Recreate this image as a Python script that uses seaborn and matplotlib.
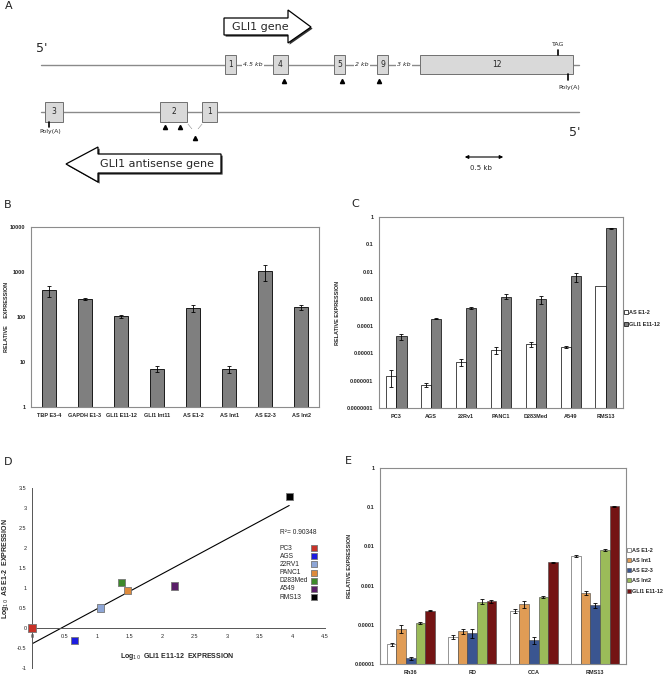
import numpy as np
import pandas as pd
import matplotlib
matplotlib.use("Agg")
import matplotlib.pyplot as plt
from matplotlib import font_manager
from matplotlib.patches import Rectangle, Polygon
from matplotlib.ticker import FixedLocator, FuncFormatter, NullLocator
import seaborn as sns

# ---------------- data ----------------
# Panel A (gene schematic)
sense_exons = ['1', '4', '5', '9', '12']
sense_x0 = [225, 273, 334, 377, 420]
sense_x1 = [236, 288, 345, 388, 573]
gap_labels = ['4.5 kb', '2 kb', '3 kb']
gap_x = [253, 362, 404]
sense_primers = [284, 342, 379]
anti_exons = ['3', '2', '1']
anti_x0 = [45, 160, 202]
anti_x1 = [63, 187, 217]
anti_primers = [165, 180]

# Panel B
b_cats = ['TBP E3-4', 'GAPDH E1-3', 'GLI1 E11-12', 'GLI1 Int11', 'AS E1-2', 'AS Int1', 'AS E2-3', 'AS Int2']
b_vals = [390, 250, 103, 7.0, 157, 7.0, 1045, 163]
b_err = [110, 8, 8, 1.0, 25, 1.2, 420, 22]

# Panel C
c_cats = ['PC3', 'AGS', '22Rv1', 'PANC1', 'D283Med', 'A549', 'RMS13']
c_series = ['AS E1-2', 'GLI1 E11-12']
c_as = [1.5e-6, 7.1e-7, 4.8e-6, 1.3e-5, 2.2e-5, 1.7e-5, 2.9e-3]
c_as_err = [1.0e-6, 1.2e-7, 1.2e-6, 3.5e-6, 5e-6, 1.5e-6, 0.0]
c_gli = [4.2e-5, 1.9e-4, 4.7e-4, 1.2e-3, 9.6e-4, 6.6e-3, 0.38]
c_gli_err = [1.0e-5, 8e-6, 4e-5, 2.5e-4, 3e-4, 2.3e-3, 0.02]

# Panel D
d_names = ['PC3', 'AGS', '22RV1', 'PANC1', 'D283Med', 'A549', 'RMS13']
d_x = [0.0, 0.65, 1.05, 1.47, 1.37, 2.19, 3.95]
d_y = [0.0, -0.32, 0.50, 0.93, 1.14, 1.05, 3.28]
d_colors = ['#c83228', '#1c1ce0', '#8ea6d6', '#dd8a3c', '#3d8a2a', '#5a1e68', '#000000']
d_r2 = 'R²= 0.90348'

# Panel E
e_cats = ['Rh36', 'RD', 'CCA', 'RMS13']
e_series = ['AS E1-2', 'AS Int1', 'AS E2-3', 'AS Int2', 'GLI1 E11-12']
e_vals = {
    'AS E1-2':     [3.2e-5, 5.0e-5, 2.3e-4, 5.8e-3],
    'AS Int1':     [7.8e-5, 6.8e-5, 3.4e-4, 6.4e-4],
    'AS E2-3':     [1.4e-5, 6.2e-5, 4.0e-5, 3.2e-4],
    'AS Int2':     [1.1e-4, 3.9e-4, 5.1e-4, 8.1e-3],
    'GLI1 E11-12': [2.3e-4, 4.0e-4, 3.9e-3, 0.105],
}
e_errs = {
    'AS E1-2':     [3e-6, 6e-6, 3e-5, 4e-4],
    'AS Int1':     [1.8e-5, 1.0e-5, 7e-5, 7e-5],
    'AS E2-3':     [1e-6, 1.5e-5, 8e-6, 5e-5],
    'AS Int2':     [8e-6, 6e-5, 4e-5, 4e-4],
    'GLI1 E11-12': [1e-5, 4e-5, 2e-4, 3e-3],
}
e_colors = ['#ffffff', '#e09c55', '#3a5590', '#9bbb59', '#741414']

# ---------------- figure ----------------
sns.set_style("white")
plt.rcParams['font.family'] = ['DejaVu Sans']
_avail = {f.name for f in font_manager.fontManager.ttflist}
SMALL_FAM = 'Liberation Sans Narrow' if 'Liberation Sans Narrow' in _avail else 'Liberation Sans'

W, H = 669, 677
fig = plt.figure(figsize=(W / 100, H / 100), dpi=100)


def px_axes(left, top, right, bottom, **kw):
    return fig.add_axes([left / W, 1 - bottom / H, (right - left) / W, (bottom - top) / H], **kw)


TICK_FS = 4.0
SMALL = dict(family=SMALL_FAM, size=TICK_FS, weight='bold')

# ---- panel A: schematic in pixel coordinates ----
ax0 = fig.add_axes([0, 0, 1, 1], zorder=-5)
ax0.set_xlim(0, W)
ax0.set_ylim(H, 0)
ax0.axis('off')

for lab, xx, yy in [('A', 5, 6), ('B', 4, 205), ('C', 351, 204), ('D', 4, 462), ('E', 345, 461)]:
    ax0.text(xx, yy, lab, fontsize=8, ha='left', va='center', color='#222')


def block_arrow(pts):
    shadow = Polygon([(x + 1.6, y + 1.6) for x, y in pts], closed=True, fc='#333', ec='none')
    ax0.add_patch(shadow)
    ax0.add_patch(Polygon(pts, closed=True, fc='white', ec='black', lw=0.9))


block_arrow([(224, 18), (288, 18), (288, 10), (311, 27), (288, 43), (288, 35), (224, 35)])
ax0.text(260, 26.5, 'GLI1 gene', fontsize=8, ha='center', va='center')
block_arrow([(221, 154), (98, 154), (98, 147), (66, 164), (98, 182), (98, 173), (221, 173)])
ax0.text(157, 164, 'GLI1 antisense gene', fontsize=8, ha='center', va='center')

# sense strand
ax0.plot([41, 579], [65, 65], color='#8a8a8a', lw=1.0, zorder=1)
ax0.text(42, 48, "5'", fontsize=9, ha='center', va='center')
for lab, x0, x1 in zip(sense_exons, sense_x0, sense_x1):
    ax0.add_patch(Rectangle((x0, 55), x1 - x0, 19, fc='#d9d9d9', ec='#707070', lw=0.7, zorder=2))
    ax0.text((x0 + x1) / 2, 64.5, lab, fontsize=5.5, ha='center', va='center', zorder=3)
for lab, xx in zip(gap_labels, gap_x):
    ax0.text(xx, 64.5, lab, fontsize=4.5, style='italic', ha='center', va='center', zorder=3,
             bbox=dict(fc='white', ec='none', pad=0.6))
ax0.plot(sense_primers, [81] * len(sense_primers), ls='none', marker='^', ms=3, color='black')
ax0.plot([558, 558], [50, 55], color='black', lw=1.2)
ax0.text(558, 44, 'TAG', fontsize=4.5, ha='center', va='center')
ax0.plot([568, 568], [74, 80], color='black', lw=1.2)
ax0.text(569, 87, 'Poly(A)', fontsize=4.5, ha='center', va='center')

# antisense strand
ax0.plot([41, 579], [112, 112], color='#8a8a8a', lw=1.0, zorder=1)
for lab, x0, x1 in zip(anti_exons, anti_x0, anti_x1):
    ax0.add_patch(Rectangle((x0, 102), x1 - x0, 20, fc='#d9d9d9', ec='#707070', lw=0.7, zorder=2))
    ax0.text((x0 + x1) / 2, 112, lab, fontsize=5.5, ha='center', va='center', zorder=3)
ax0.plot([49, 49], [122, 127], color='black', lw=1.2)
ax0.text(50, 131, 'Poly(A)', fontsize=4.5, ha='center', va='center')
ax0.plot(anti_primers, [127] * len(anti_primers), ls='none', marker='^', ms=3, color='black')
ax0.plot([188, 192], [124, 129], color='#555', lw=0.5, ls=(0, (1, 1)))
ax0.plot([202, 198], [124, 129], color='#555', lw=0.5, ls=(0, (1, 1)))
ax0.plot([195], [138], ls='none', marker='^', ms=3, color='black')
ax0.text(575, 133, "5'", fontsize=9, ha='center', va='center')

# scale bar
ax0.annotate('', xy=(462, 157), xytext=(506, 157),
             arrowprops=dict(arrowstyle='<|-|>', lw=0.8, color='black', mutation_scale=5))
ax0.text(481, 168, '0.5 kb', fontsize=5, ha='center', va='center')


def style_frame(ax):
    for s in ax.spines.values():
        s.set_color('#8c8c8c')
        s.set_linewidth(0.8)
    ax.tick_params(axis='both', length=2, width=0.5, color='#555', pad=2)
    for t in ax.get_xticklabels() + ax.get_yticklabels():
        t.set_fontfamily(SMALL_FAM)
        t.set_fontsize(TICK_FS)
        t.set_fontweight('bold')


def dec_fmt(v, _):
    return np.format_float_positional(v, trim='-')


def add_errs(ax, errs_per_container):
    for cont, errs in zip(ax.containers, errs_per_container):
        for bar, e in zip(cont, errs):
            if e <= 0:
                continue
            xc = bar.get_x() + bar.get_width() / 2
            yv = bar.get_height()
            lo = min(e, yv * 0.6)
            ax.errorbar(xc, yv, yerr=[[lo], [e]], fmt='none', ecolor='black',
                        elinewidth=0.6, capsize=1.2, capthick=0.6, zorder=5)


def set_cat_ticks(ax, n):
    ax.set_xticks(np.arange(n))
    ax.set_xticks(np.arange(n + 1) - 0.5, minor=True)
    ax.tick_params(axis='x', which='major', length=0, pad=4)
    ax.tick_params(axis='x', which='minor', length=2, width=0.5, color='#555')
    ax.set_xlim(-0.5, n - 0.5)


def small_legend(ax, anchor, spacing):
    ax.legend(loc='upper left', bbox_to_anchor=anchor, frameon=False,
              prop=dict(family=SMALL_FAM, size=TICK_FS, weight='bold'),
              handlelength=0.7, handleheight=0.7, handletextpad=0.15,
              labelspacing=spacing, borderaxespad=0.1, borderpad=0.1)


# ---- panel B ----
axB = px_axes(31, 227, 319, 407)
axB.set_yscale('log')
dfB = pd.DataFrame({'cat': b_cats, 'val': b_vals})
sns.barplot(data=dfB, x='cat', y='val', color='#7f7f7f', saturation=1, width=0.4,
            edgecolor='black', linewidth=0.6, ax=axB)
axB.set_ylim(1, 10000)
axB.yaxis.set_major_locator(FixedLocator([1, 10, 100, 1000, 10000]))
axB.yaxis.set_minor_locator(NullLocator())
axB.yaxis.set_major_formatter(FuncFormatter(dec_fmt))
set_cat_ticks(axB, len(b_cats))
add_errs(axB, [b_err])
axB.set_xlabel('')
axB.set_ylabel('RELATIVE     EXPRESSION', **SMALL)
axB.yaxis.set_label_coords(-0.075, 0.5)
style_frame(axB)

# ---- panel C ----
axC = px_axes(379, 217, 623, 408)
axC.set_yscale('log')
dfC = pd.DataFrame({'cat': c_cats * 2,
                    'series': [c_series[0]] * len(c_cats) + [c_series[1]] * len(c_cats),
                    'val': c_as + c_gli})
sns.barplot(data=dfC, x='cat', y='val', hue='series', hue_order=c_series,
            palette=['#ffffff', '#7f7f7f'], saturation=1, width=0.58,
            edgecolor='black', linewidth=0.5, ax=axC)
axC.set_ylim(1e-7, 1)
axC.yaxis.set_major_locator(FixedLocator([10.0 ** k for k in range(-7, 1)]))
axC.yaxis.set_minor_locator(NullLocator())
axC.yaxis.set_major_formatter(FuncFormatter(dec_fmt))
set_cat_ticks(axC, len(c_cats))
add_errs(axC, [c_as_err, c_gli_err])
axC.set_xlabel('')
axC.set_ylabel('RELATIVE EXPRESSION', **SMALL)
axC.yaxis.set_label_coords(-0.16, 0.5)
small_legend(axC, (1.0, 0.52), 1.3)
style_frame(axC)

# ---- panel D ----
axD = px_axes(32, 488, 325, 668)
dfD = pd.DataFrame({'x': d_x, 'y': d_y, 'name': d_names})
sns.regplot(data=dfD, x='x', y='y', scatter=False, ci=None, truncate=True,
            line_kws=dict(color='black', lw=0.8), ax=axD)
sns.scatterplot(data=dfD, x='x', y='y', hue='name', hue_order=d_names, palette=d_colors,
                marker='s', s=28, edgecolor='#777', linewidth=0.6, legend=False, ax=axD,
                zorder=4, clip_on=False)
axD.set_xlim(0, 4.5)
axD.set_ylim(-1, 3.5)
axD.set_xticks(np.arange(0, 4.51, 0.5))
axD.set_yticks(np.arange(-1, 3.51, 0.5))
axD.xaxis.set_major_formatter(FuncFormatter(lambda v, _: f'{v:g}'))
axD.yaxis.set_major_formatter(FuncFormatter(lambda v, _: f'{v:g}'))
axD.spines['top'].set_visible(False)
axD.spines['right'].set_visible(False)
axD.spines['bottom'].set_position(('data', 0))
for s in ['left', 'bottom']:
    axD.spines[s].set_color('#555')
    axD.spines[s].set_linewidth(0.7)
axD.tick_params(axis='both', length=2, width=0.5, color='#555', pad=2)
for t in axD.get_xticklabels() + axD.get_yticklabels():
    t.set_fontfamily(SMALL_FAM)
    t.set_fontsize(TICK_FS)
axD.set_xlabel('')
axD.set_ylabel('')
LBL = dict(family=SMALL_FAM, size=TICK_FS + 1.0, weight='bold')
axD.text(2.23, -0.72, 'Log$_{10}$  GLI1 E11-12  EXPRESSION', ha='center', va='center', **LBL)
axD.text(-0.09, 0.55, 'Log$_{10}$  AS E1-2  EXPRESSION', transform=axD.transAxes,
         ha='center', va='center', rotation=90, **LBL)
LEG = dict(family=SMALL_FAM, size=TICK_FS + 0.8)
axD.text(248 / 293, 1 - (533 - 488) / 180, d_r2, transform=axD.transAxes,
         ha='left', va='center', **LEG)
for i, (nm, col) in enumerate(zip(d_names, d_colors)):
    yy = 1 - (548 + 8.2 * i - 488) / 180
    axD.text(248 / 293, yy, nm, transform=axD.transAxes, ha='left', va='center', **LEG)
    axD.scatter([282 / 293], [yy], transform=axD.transAxes, marker='s', s=22,
                color=col, edgecolor='#777', linewidth=0.6, clip_on=False)

# ---- panel E ----
axE = px_axes(380, 468, 626, 664)
axE.set_yscale('log')
rows = []
for sname in e_series:
    for c, v in zip(e_cats, e_vals[sname]):
        rows.append((c, sname, v))
dfE = pd.DataFrame(rows, columns=['cat', 'series', 'val'])
sns.barplot(data=dfE, x='cat', y='val', hue='series', hue_order=e_series,
            palette=e_colors, saturation=1, width=0.78,
            edgecolor='#444', linewidth=0.4, ax=axE)
axE.set_ylim(1e-5, 1)
axE.yaxis.set_major_locator(FixedLocator([10.0 ** k for k in range(-5, 1)]))
axE.yaxis.set_minor_locator(NullLocator())
axE.yaxis.set_major_formatter(FuncFormatter(dec_fmt))
set_cat_ticks(axE, len(e_cats))
add_errs(axE, [e_errs[s] for s in e_series])
axE.set_xlabel('')
axE.set_ylabel('RELATIVE EXPRESSION', **SMALL)
axE.yaxis.set_label_coords(-0.115, 0.5)
small_legend(axE, (1.0, 0.6), 0.95)
style_frame(axE)

fig.savefig('out.png', dpi=100)
